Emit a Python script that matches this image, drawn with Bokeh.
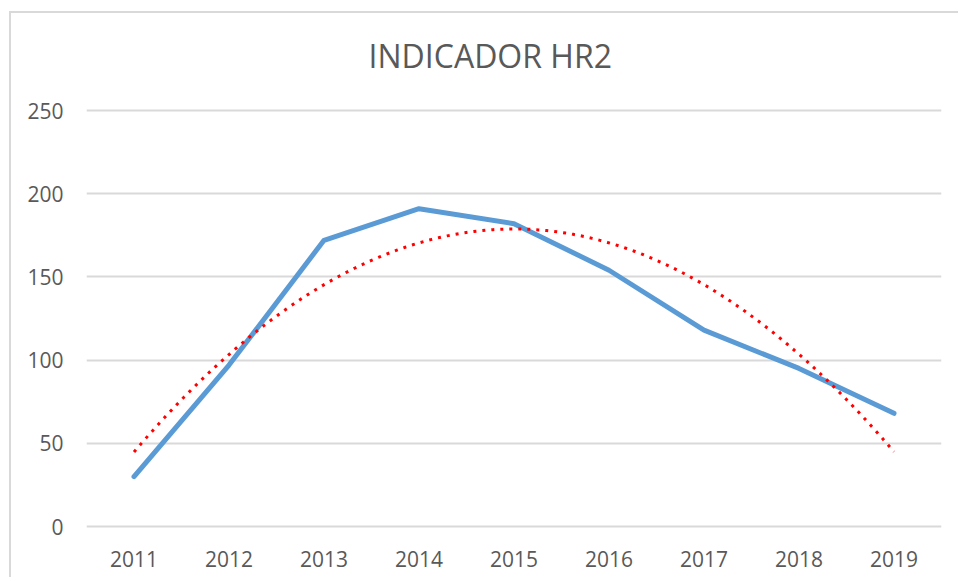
import numpy as np
from bokeh.plotting import figure
from bokeh.models import Range1d, FixedTicker, Label
from bokeh.embed import file_html
from bokeh.resources import INLINE

# ---- data ----
years = [2011, 2012, 2013, 2014, 2015, 2016, 2017, 2018, 2019]
year_labels = ["2011", "2012", "2013", "2014", "2015", "2016", "2017", "2018", "2019"]
hr2_values = [30, 97, 172, 191, 182, 154, 118, 95, 68]
y_ticks = [0, 50, 100, 150, 200, 250]
title_text = "INDICADOR HR2"

# polynomial (order 2) trendline of the series, as in the original chart
coef = np.polyfit(years, hr2_values, 2)
trend_x = np.linspace(years[0], years[-1], 200)
trend_y = np.polyval(coef, trend_x)

FONT = "Open Sans"
TXT = "#595959"
GRID = "#D9D9D9"

# the frame extends above the 250 gridline so the chart title can sit in it
p = figure(
    width=949, height=566,
    output_backend="svg", toolbar_location=None,
    x_range=Range1d(2010.5, 2019.5),
    y_range=Range1d(-1.2, 304.1),
    min_border_left=75, min_border_right=19,
    min_border_top=7, min_border_bottom=51,
    styles={"border-left": "2px solid #D9D9D9",
            "border-top": "2px solid #D9D9D9",
            "margin-left": "9px", "margin-top": "11px"},
)
p.outline_line_color = None
p.background_fill_color = "white"
p.border_fill_color = "white"

title = Label(x=2014.75, y=283.0, text=title_text,
              text_font=FONT, text_font_size="32px", text_color=TXT,
              text_align="center", text_baseline="alphabetic")
p.add_layout(title)

p.xaxis.ticker = FixedTicker(ticks=years)
p.xaxis.major_label_overrides = {y: l for y, l in zip(years, year_labels)}
p.yaxis.ticker = FixedTicker(ticks=y_ticks)
for ax in (p.xaxis[0], p.yaxis[0]):
    ax.axis_line_color = None
    ax.major_tick_line_color = None
    ax.minor_tick_line_color = None
    ax.major_label_text_font = FONT
    ax.major_label_text_font_size = "21px"
    ax.major_label_text_color = TXT
p.xaxis.major_label_standoff = 16
p.yaxis.major_label_standoff = 17

p.xgrid.grid_line_color = None
p.ygrid.ticker = FixedTicker(ticks=y_ticks)
p.ygrid.grid_line_color = GRID
p.ygrid.grid_line_width = 2

p.line(years, hr2_values, line_color="#5B9BD5", line_width=5,
       line_join="round", line_cap="round")
p.line(trend_x, trend_y, line_color="#FF0000", line_width=3,
       line_dash="3 6")

open("out.html", "w").write(file_html(p, INLINE))
